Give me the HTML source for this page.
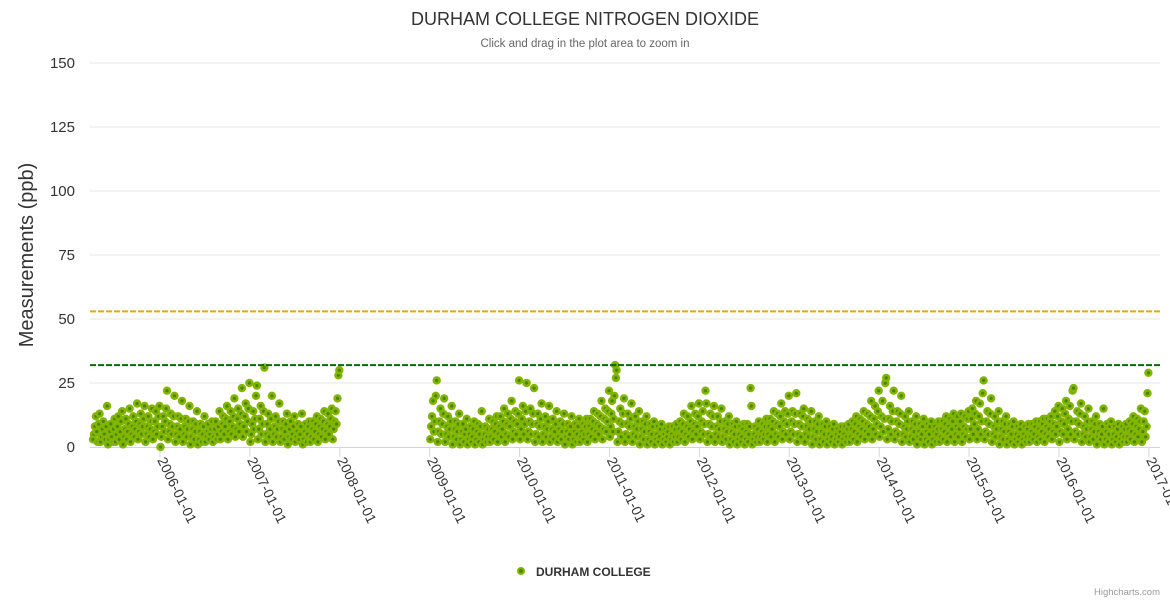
<!DOCTYPE html>
<html><head><meta charset="utf-8">
<style>
body{margin:0;background:#fff;}
svg{display:block;font-family:"Liberation Sans",sans-serif;}
</style></head>
<body>
<svg id="chart" width="1170" height="600">
<text x="585" y="25" text-anchor="middle" font-size="18" fill="#333">DURHAM COLLEGE NITROGEN DIOXIDE</text>
<text x="585" y="47" text-anchor="middle" font-size="11.5" fill="#666">Click and drag in the plot area to zoom in</text>
<text transform="translate(33,255) rotate(-90)" text-anchor="middle" font-size="20" fill="#333">Measurements (ppb)</text>
<g id="grid"></g>
<g id="xaxis"></g>
<g id="points"></g>
<g id="plotlines"></g>
<g>
<circle cx="521" cy="571" r="3" fill="#4b8c00" stroke="#84b300" stroke-width="2"/>
<text x="536" y="576" font-size="12" font-weight="bold" fill="#333">DURHAM COLLEGE</text>
</g>
<text x="1160" y="595" text-anchor="end" font-size="9.5" fill="#999">Highcharts.com</text>
</svg>
<script>
const yTicks=[0,25,50,75,100,125,150];
const xTickYears=[2006,2007,2008,2009,2010,2011,2012,2013,2014,2015,2016,2017];
const plotLineValues=[53,32];
const startYears=[2005,2009];
const startMonths=[3,0];
// monthly sample values (ppb), segment 1: 2005-04..2007-12
const seg1=[
[3,5,8,12,6,2,9,13],[2,4,7,10,5,3,8,16],[1,3,6,9,4,2,7,11],[2,5,8,12,3,6,10,14],[1,4,7,11,3,6,9,15],[2,5,8,12,4,7,10,17],[3,6,9,13,5,8,11,16],[2,5,8,12,4,7,10,15],[3,6,10,14,5,8,12,16],
[0,4,8,12,6,10,15,22],[3,6,9,13,5,8,12,20],[2,5,8,12,4,7,11,18],[2,5,8,11,4,7,10,16],[1,4,7,10,3,6,9,14],[1,3,6,9,2,5,8,12],[2,4,6,9,3,5,7,10],[2,4,7,10,3,5,8,14],[3,6,9,12,5,8,11,16],[3,6,10,14,5,8,12,19],[4,7,11,15,6,9,13,23],[4,8,12,17,6,10,15,25],
[2,5,9,14,7,11,20,24],[3,7,11,16,5,9,14,31],[2,5,9,13,4,7,11,20],[2,5,8,12,4,7,10,17],[2,4,7,10,3,6,9,13],[1,4,7,10,3,5,8,12],[2,4,6,9,3,5,8,13],[1,3,6,9,2,5,8,10],[2,4,7,10,3,6,9,12],[2,5,8,11,4,7,10,14],[3,6,9,13,5,8,11,15],[3,7,10,14,9,19,28,30]
];
// segment 2: 2009-01..2016-12
const seg2=[
[3,8,12,18,6,10,20,26],[2,6,10,15,5,9,13,19],[2,5,8,12,4,7,10,16],[1,4,7,10,3,6,9,13],[1,3,6,9,2,5,7,11],[1,3,5,8,2,4,7,10],[1,3,6,9,2,5,8,14],[1,3,5,8,2,4,7,11],[2,4,7,10,3,6,9,12],[2,5,8,12,4,7,10,15],[2,5,9,13,4,8,11,18],[3,6,10,14,5,9,13,26],
[3,7,11,16,5,9,14,25],[3,6,10,15,5,9,13,23],[2,5,9,13,4,8,11,17],[2,5,8,12,4,7,10,16],[2,4,7,11,3,6,9,14],[2,4,7,10,3,6,9,13],[1,4,6,9,3,5,8,12],[1,3,6,9,2,5,8,11],[2,4,6,9,3,5,8,11],[2,5,8,11,4,7,10,14],[3,6,9,13,5,8,12,18],[3,7,11,15,6,10,14,22],
[4,8,13,18,6,11,20,32,27,30],[2,6,10,15,4,9,13,19],[2,5,9,13,4,8,11,17],[2,5,8,12,4,7,10,14],[1,4,7,10,3,6,9,12],[1,3,6,9,2,5,8,10],[1,3,5,8,2,4,7,9],[1,3,5,7,2,4,6,8],[1,3,5,8,2,4,7,9],[2,4,7,10,3,6,9,13],[2,5,8,12,4,7,10,16],[3,6,9,13,5,8,12,17],
[3,6,10,14,5,9,22,17],[2,5,9,13,4,8,12,16],[2,5,8,12,4,7,10,15],[2,4,7,10,3,6,9,12],[1,3,6,9,2,5,8,10],[1,3,5,8,2,4,7,9],[1,3,6,9,2,5,8,23,16],[1,3,5,8,2,4,7,10],[2,4,6,9,3,5,8,11],[2,5,8,11,4,7,10,14],[2,5,9,13,4,8,12,17],[3,6,10,14,5,9,13,20],
[3,6,10,14,5,9,13,21],[2,5,9,13,4,8,12,15],[2,5,8,11,4,7,10,14],[1,4,7,10,3,6,9,12],[1,3,6,9,2,5,8,10],[1,3,5,8,2,4,7,9],[1,3,5,7,2,4,6,8],[1,3,5,8,2,4,7,9],[2,4,7,10,3,6,9,12],[2,5,8,11,4,7,10,14],[3,6,9,13,5,8,12,18],[3,7,11,16,5,9,14,22],
[4,8,12,18,6,11,25,27],[3,7,11,16,5,10,14,22],[3,6,10,14,5,9,13,20],[2,5,8,12,4,7,10,14],[2,4,7,10,3,6,9,12],[1,4,6,9,3,5,8,11],[1,3,6,9,2,5,8,10],[1,3,6,8,2,5,7,10],[2,4,7,10,3,6,9,12],[2,5,8,11,4,7,10,13],[2,5,8,12,4,7,10,13],[2,5,8,12,4,7,11,14],
[3,7,11,15,5,9,13,18],[3,7,12,17,5,10,21,26],[3,6,10,14,5,9,13,19],[2,5,8,12,4,7,10,14],[1,4,7,10,3,6,9,12],[1,3,6,9,2,5,8,10],[1,3,5,8,2,4,7,9],[1,3,5,8,2,4,7,9],[2,4,6,9,3,5,8,10],[2,4,7,10,3,6,9,11],[2,5,8,11,4,7,10,12],[3,6,9,14,5,8,12,16],
[2,6,10,15,5,9,13,18],[3,7,11,16,5,10,22,23],[3,6,10,14,5,9,13,17],[2,5,8,12,4,7,10,15],[2,4,7,10,3,6,9,12],[1,4,6,9,3,5,8,15],[1,3,6,9,2,5,8,10],[1,3,5,8,2,4,7,9],[1,3,5,8,2,4,7,9],[2,4,7,10,3,6,9,12],[2,5,8,11,4,7,10,15],[2,6,10,14,4,8,21,29]
];
const segments=[seg1,seg2];

const NS="http://www.w3.org/2000/svg";
const X0=160, PXY=89.9, Y0=447, PXV=2.56, L=90, R=1160;
function xs(t){return X0+(t-2006)*PXY;}
function ys(v){return Y0-v*PXV;}
function mk(tag,attrs,parent){const e=document.createElementNS(NS,tag);for(const k in attrs)e.setAttribute(k,attrs[k]);parent.appendChild(e);return e;}

const grid=document.getElementById('grid');
yTicks.forEach(v=>{
  if(v>0){const ln=mk('line',{x1:L,x2:R,y1:ys(v),y2:ys(v),stroke:'#e6e6e6','stroke-width':1},grid);
  
  }
  const t=mk('text',{x:75,y:ys(v)+5,'text-anchor':'end','font-size':15,fill:'#333'},grid);
  t.textContent=v;
  
  
});
const xa=document.getElementById('xaxis');
const axl=mk('line',{x1:L,x2:R,y1:Y0+0.5,y2:Y0+0.5,stroke:'#ccd6eb','stroke-width':1},xa);


xTickYears.forEach(yr=>{
  const x=xs(yr);
  const tk=mk('line',{x1:x,x2:x,y1:Y0,y2:Y0+10,stroke:'#ccd6eb','stroke-width':1},xa);
  
  
  const t=mk('text',{transform:`translate(${x-3},${Y0+13}) rotate(64)`,'font-size':14,fill:'#333'},xa);
  t.textContent=yr+'-01-01';
  
  
});
const pts=document.getElementById('points');
segments.forEach((seg,si)=>{
  seg.forEach((vals,mi)=>{
    const m=startMonths[si]+mi;
    const t0=startYears[si]+m/12;
    vals.forEach((v,k)=>{
      const t=t0+(k+0.5)/vals.length/12;
      const c=mk('circle',{cx:xs(t).toFixed(1),cy:ys(v).toFixed(1),r:2.9,fill:'#3f8a00',stroke:'#84b300','stroke-width':2.6},pts);
      
      
    });
  });
});
const pl=document.getElementById('plotlines');
const plColors=['#f0a30a','#007000'];
plotLineValues.forEach((v,i)=>{
  const ln=mk('line',{x1:L,x2:R,y1:ys(v),y2:ys(v),stroke:plColors[i],'stroke-width':2,'stroke-dasharray':'6,2'},pl);
  
  
});
</script>
</body></html>
